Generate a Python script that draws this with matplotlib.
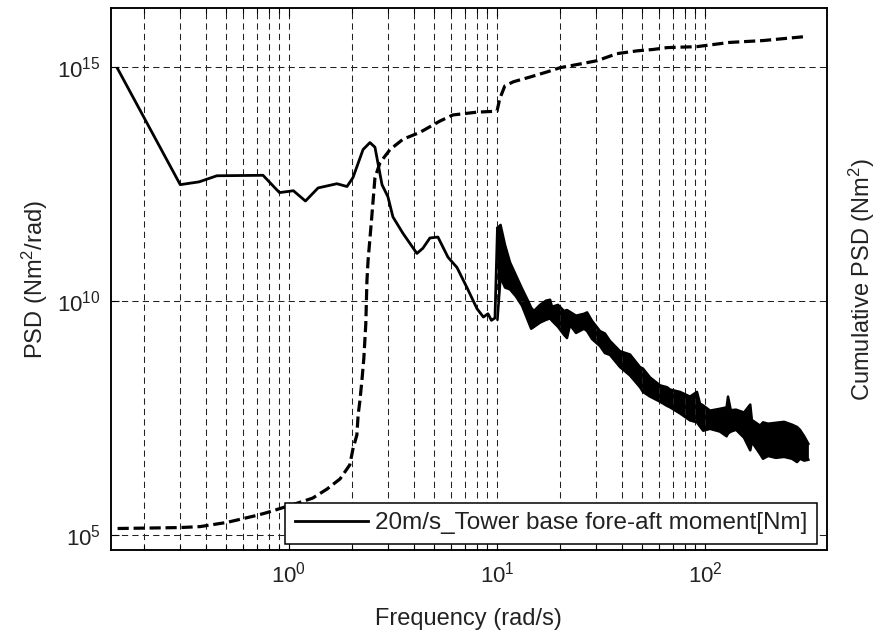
import numpy as np
import matplotlib
matplotlib.use("Agg")
import matplotlib.pyplot as plt
from matplotlib.ticker import FixedLocator, FixedFormatter, NullLocator, NullFormatter

plt.rcParams['font.family'] = ['Liberation Sans', 'DejaVu Sans']
plt.rcParams['mathtext.fontset'] = 'custom'
plt.rcParams['mathtext.rm'] = 'Liberation Sans'
plt.rcParams['mathtext.it'] = 'Liberation Sans'

# PSD of tower base fore-aft moment, low/mid frequency trace (log10 of PSD)
psd_freq = [0.15, 0.30, 0.37, 0.45, 0.75, 0.90, 1.05, 1.20, 1.38, 1.70,
            1.90, 2.03, 2.27, 2.45, 2.59, 2.80, 2.99, 3.16, 3.53, 4.12,
            4.40, 4.76, 5.20, 5.81, 6.42, 7.17, 8.01, 8.6, 9.05, 9.4, 9.78, 10.05]
psd_exp = [14.96, 12.48, 12.54, 12.67, 12.68, 12.31, 12.35, 12.13, 12.41, 12.50,
           12.44, 12.63, 13.23, 13.38, 13.28, 12.48, 12.22, 11.79, 11.44, 11.01,
           11.12, 11.34, 11.36, 10.93, 10.71, 10.28, 9.83, 9.65, 9.72, 9.58, 9.63, 11.55]

# high frequency part: noisy band, upper / lower envelope (log10)
band_freq = [10.05, 10.4, 10.93, 11.55, 12.34, 13.19, 14.09, 14.6, 15.06, 16.09,
             17.2, 18.0, 18.38, 19.65, 20.99, 21.7, 22.44, 23.98, 26.2, 27.1,
             28.62, 31.27, 33.0, 34.93, 39.02, 43.6, 48.7, 50.3, 54.4, 60.8,
             65.7, 67.9, 75.8, 84.7, 91.5, 94.6, 98, 105.7, 118.1, 127,
             129, 133, 141, 154, 165, 168, 184, 190, 201, 219,
             240, 262, 277, 286, 300, 314]
band_hi = [11.55, 11.62, 11.19, 10.82, 10.54, 10.26, 10.00, 9.85, 9.78, 9.91,
           10.00, 10.02, 9.87, 9.91, 9.78, 9.80, 9.76, 9.68, 9.72, 9.75,
           9.57, 9.35, 9.30, 9.14, 8.92, 8.85, 8.58, 8.55, 8.36, 8.19,
           8.15, 8.10, 8.05, 7.95, 8.05, 7.80, 7.76, 7.65, 7.69, 7.72,
           7.95, 7.66, 7.67, 7.61, 7.78, 7.45, 7.33, 7.40, 7.37, 7.39,
           7.41, 7.35, 7.30, 7.24, 7.10, 6.94]
band_lo = [9.60, 10.50, 10.28, 10.24, 10.09, 9.89, 9.57, 9.40, 9.44, 9.53,
           9.59, 9.62, 9.57, 9.44, 9.27, 9.20, 9.48, 9.31, 9.40, 9.35,
           9.18, 9.03, 8.88, 8.84, 8.58, 8.40, 8.15, 8.05, 7.95, 7.84,
           7.75, 7.72, 7.59, 7.44, 7.40, 7.31, 7.22, 7.26, 7.20, 7.10,
           7.16, 7.20, 7.24, 7.07, 6.80, 6.98, 6.72, 6.62, 6.68, 6.64,
           6.66, 6.62, 6.55, 6.62, 6.58, 6.60]

# cumulative PSD (log10)
cum_freq = [0.15, 0.30, 0.373, 0.503, 0.60, 0.70, 0.784, 1.13, 1.30, 1.52,
            1.76, 1.96, 2.03, 2.12, 2.15, 2.19, 2.24, 2.29, 2.34, 2.37,
            2.40, 2.50, 2.59, 2.74, 3.06, 3.53, 4.27, 5.32, 6.14, 8.01,
            10.0, 10.3, 10.9, 12.0, 14.4, 17.4, 20.1, 25.1, 30.3, 37.7,
            47.1, 56.3, 65.8, 91.4, 131, 190, 311]
cum_exp = [5.13, 5.15, 5.17, 5.26, 5.34, 5.41, 5.47, 5.69, 5.78, 5.97,
           6.19, 6.49, 6.83, 7.13, 7.56, 7.84, 8.28, 8.77, 9.50, 10.43,
           10.86, 11.79, 12.63, 12.95, 13.23, 13.45, 13.60, 13.84, 13.97, 14.03,
           14.05, 14.31, 14.59, 14.68, 14.78, 14.89, 14.98, 15.06, 15.13, 15.28,
           15.34, 15.37, 15.41, 15.43, 15.52, 15.56, 15.65]

x_major = [1, 10, 100]
x_minor = [0.2, 0.3, 0.4, 0.5, 0.6, 0.7, 0.8, 0.9,
           2, 3, 4, 5, 6, 7, 8, 9,
           20, 30, 40, 50, 60, 70, 80, 90]
y_major = [1e5, 1e10, 1e15]
x_labels = [r'$\mathregular{10^{0}}$', r'$\mathregular{10^{1}}$', r'$\mathregular{10^{2}}$']
y_labels = [r'$\mathregular{10^{5}}$', r'$\mathregular{10^{10}}$', r'$\mathregular{10^{15}}$']

xlim = (0.139, 386)
ylim = (10 ** 4.67, 10 ** 16.25)

fig = plt.figure(figsize=(8.76, 6.33), dpi=100)
ax = fig.add_axes([0.1264, 0.1311, 0.8177, 0.8558])
ax.set_xscale('log')
ax.set_yscale('log')

grid_style = dict(color='#222222', linestyle=(0, (6, 4)), linewidth=0.75)

# PSD curve
line, = ax.plot(psd_freq, 10 ** np.array(psd_exp), color='k', lw=2.0,
                label='20m/s_Tower base fore-aft moment[Nm]')
ax.fill_between(band_freq, 10 ** np.array(band_lo), 10 ** np.array(band_hi),
                color='k', lw=0)
ax.plot(band_freq, 10 ** np.array(band_hi), color='k', lw=1.8)
ax.plot(band_freq, 10 ** np.array(band_lo), color='k', lw=1.8)

ax.set_xlim(*xlim)
ax.set_ylim(*ylim)
ax.xaxis.set_major_locator(FixedLocator(x_major))
ax.xaxis.set_major_formatter(FixedFormatter(x_labels))
ax.xaxis.set_minor_locator(FixedLocator(x_minor))
ax.xaxis.set_minor_formatter(NullFormatter())
ax.yaxis.set_major_locator(FixedLocator(y_major))
ax.yaxis.set_major_formatter(FixedFormatter(y_labels))
ax.yaxis.set_minor_locator(NullLocator())

ax.grid(True, which='both', axis='x', **grid_style)
ax.grid(True, which='major', axis='y', **grid_style)

ax.tick_params(which='both', direction='in', top=True, right=True,
               labelsize=16, colors='k', labelcolor='#222222', width=0.8)
ax.tick_params(which='major', length=6)
ax.tick_params(which='minor', length=3.5)
ax.tick_params(axis='x', pad=8)
ax.tick_params(axis='y', pad=7)
for s in ax.spines.values():
    s.set_linewidth(1.1)

ax.set_xlabel('Frequency (rad/s)', fontsize=17, color='#222222', labelpad=15)
ax.set_ylabel(r'PSD (Nm$^\mathregular{2}$/rad)', fontsize=17, color='#222222', labelpad=5)

# cumulative PSD on the right-hand axis
ax2 = ax.twinx()
ax2.set_yscale('log')
ax2.plot(cum_freq, 10 ** np.array(cum_exp), color='k', lw=2.3,
         linestyle=(0, (3.5, 1.5)))
ax2.set_ylim(*ylim)
ax2.yaxis.set_major_locator(NullLocator())
ax2.yaxis.set_minor_locator(NullLocator())
ax2.set_ylabel(r'Cumulative PSD (Nm$^\mathregular{2}$)', fontsize=17,
               color='#222222', labelpad=14)
for s in ax2.spines.values():
    s.set_linewidth(1.1)

leg = ax2.legend(handles=[line], loc='lower right', bbox_to_anchor=(0.986, 0.011),
                 borderaxespad=0, fontsize=17.5, fancybox=False, framealpha=1,
                 edgecolor='k', handlelength=3.0, handletextpad=0.3,
                 borderpad=0.4)
leg.get_frame().set_linewidth(1.1)
for t in leg.get_texts():
    t.set_color('#222222')

fig.savefig('out.png', dpi=100)
